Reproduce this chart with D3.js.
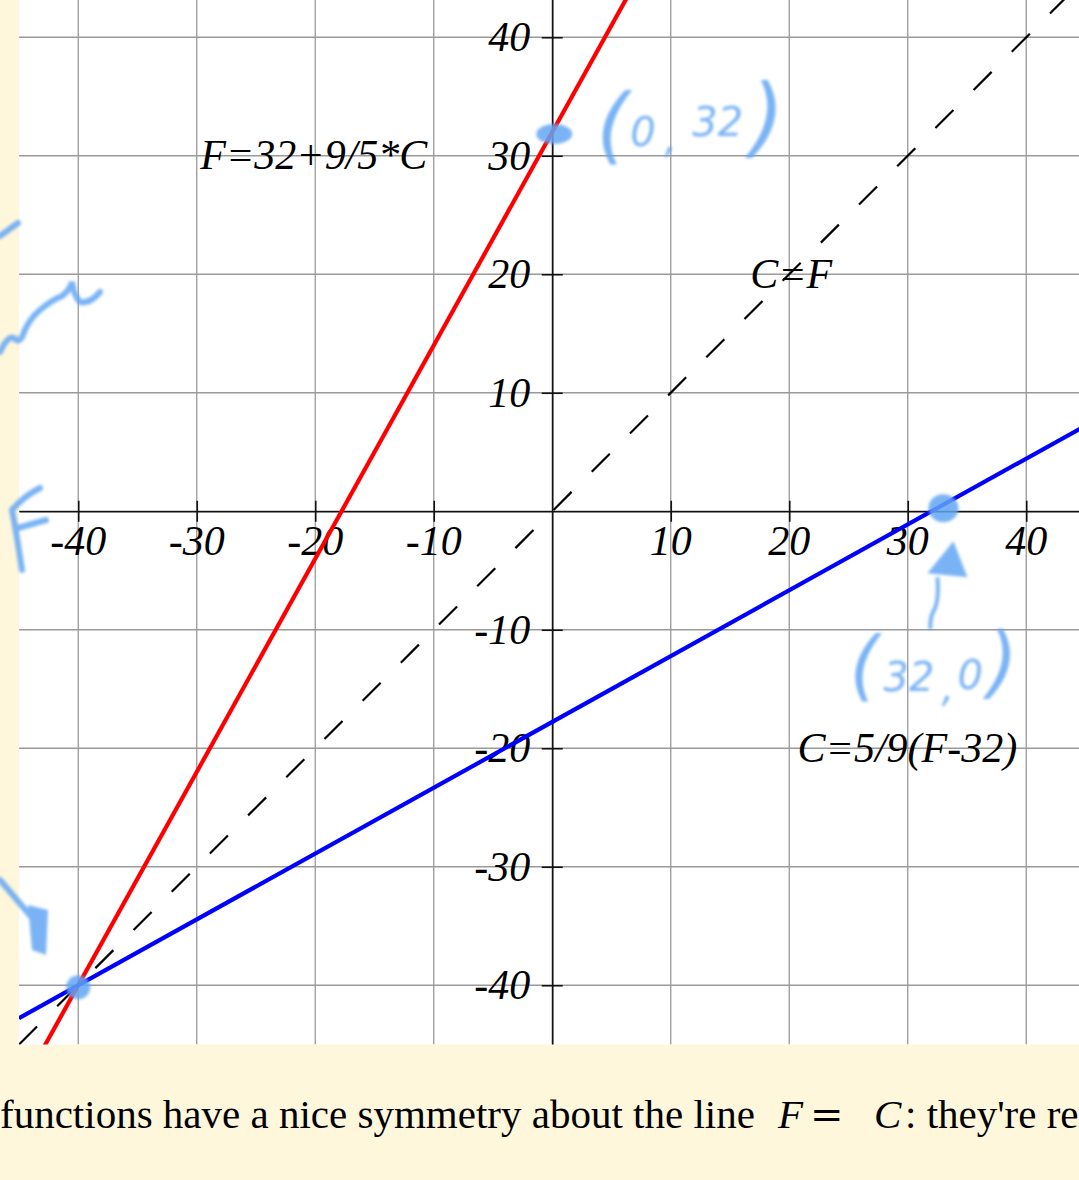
<!DOCTYPE html>
<html>
<head>
<meta charset="utf-8">
<script src="https://cdn.jsdelivr.net/npm/d3@7"></script>
<style>
  html, body { margin: 0; padding: 0; background: #fff7dc; overflow: hidden; }
  svg { display: block; }
</style>
</head>
<body>
<svg id="chart" width="1079" height="1180"></svg>
<script>
// Celsius / Fahrenheit conversion lines
const domainC = [-45, 45];
const domainF = [-45, 45];
const tickValues = [-40, -30, -20, -10, 10, 20, 30, 40];
const gridValues = [-40, -30, -20, -10, 0, 10, 20, 30, 40];
const tickLabels = ["-40", "-30", "-20", "-10", "10", "20", "30", "40"];

const lineNames = ["C=F", "F=32+9/5*C", "C=5/9(F-32)"];
const lineSlopes = [1, 9 / 5, 5 / 9];
const lineIntercepts = [0, 32, -32 * 5 / 9];
const lineColors = ["#000000", "#ff0000", "#0000ff"];

// Handwritten notes: marked points (C, F)
const notePoints = [[0, 32], [32, 0], [-40, -40]];
const noteTexts = ["(0,32)", "(32,0)"];

const svg = d3.select("#chart");
const W = 1079, H = 1180;

const x = d3.scaleLinear().domain(domainC).range([19, 1085.5]);
const y = d3.scaleLinear().domain(domainF).range([1044.5, -22]);

const defs = svg.append("defs");
defs.append("clipPath").attr("id", "plotClip")
  .append("rect")
  .attr("x", x(domainC[0])).attr("y", y(domainF[1]))
  .attr("width", x(domainC[1]) - x(domainC[0]))
  .attr("height", y(domainF[0]) - y(domainF[1]));
defs.append("filter").attr("id", "soft")
  .attr("x", "-20%").attr("y", "-20%").attr("width", "140%").attr("height", "140%")
  .append("feGaussianBlur").attr("stdDeviation", 1.8);

// page background
svg.append("rect").attr("width", W).attr("height", H).attr("fill", "#fff7dc");

// plot area
svg.append("rect")
  .attr("x", x(domainC[0])).attr("y", y(domainF[1]))
  .attr("width", x(domainC[1]) - x(domainC[0]))
  .attr("height", y(domainF[0]) - y(domainF[1]))
  .attr("fill", "#ffffff");

const plot = svg.append("g").attr("clip-path", "url(#plotClip)");

// grid
plot.append("g").selectAll("line").data(gridValues).join("line")
  .attr("x1", d => x(d)).attr("x2", d => x(d))
  .attr("y1", y(domainF[1])).attr("y2", y(domainF[0]))
  .attr("stroke", "#9a9a9a").attr("stroke-width", 1.3);
plot.append("g").selectAll("line").data(gridValues).join("line")
  .attr("y1", d => y(d)).attr("y2", d => y(d))
  .attr("x1", x(domainC[0])).attr("x2", x(domainC[1]))
  .attr("stroke", "#9a9a9a").attr("stroke-width", 1.3);

// axes through the origin
const xAxis = d3.axisBottom(x).tickValues(tickValues).tickSize(0).tickFormat("");
const yAxis = d3.axisLeft(y).tickValues(tickValues).tickSize(0).tickFormat("");
const gx = plot.append("g").attr("transform", `translate(0,${y(0)})`).call(xAxis);
const gy = plot.append("g").attr("transform", `translate(${x(0)},0)`).call(yAxis);
[gx, gy].forEach(g => {
  g.select(".domain").attr("stroke", "#111").attr("stroke-width", 1.6);
  g.selectAll(".tick line").attr("stroke", "#111").attr("stroke-width", 1.6);
});
gx.selectAll(".tick line").attr("y1", -10.5).attr("y2", 10.5);
gy.selectAll(".tick line").attr("x1", -10.5).attr("x2", 10.5);

const labelFont = "'Liberation Serif', 'Times New Roman', serif";

// tick labels
plot.append("g").selectAll("text").data(tickValues).join("text")
  .attr("x", d => x(d)).attr("y", y(0) + 44)
  .attr("text-anchor", "middle")
  .attr("font-family", labelFont).attr("font-style", "italic").attr("font-size", 42)
  .attr("fill", "#000")
  .text((d, i) => tickLabels[i]);
plot.append("g").selectAll("text").data(tickValues).join("text")
  .attr("x", x(0) - 22).attr("y", d => y(d) + 14)
  .attr("text-anchor", "end")
  .attr("font-family", labelFont).attr("font-style", "italic").attr("font-size", 42)
  .attr("fill", "#000")
  .text((d, i) => tickLabels[i]);

// function labels
const labelAnchors = [[16.7, 18.8], [-29.7, 28.85], [20.7, -21.15]];
plot.append("g").selectAll("text").data(lineNames).join("text")
  .attr("x", (d, i) => x(labelAnchors[i][0]))
  .attr("y", (d, i) => y(labelAnchors[i][1]))
  .attr("font-family", labelFont).attr("font-style", "italic").attr("font-size", 42)
  .attr("fill", "#000")
  .text(d => d);

// conversion lines
const lineGen = d3.line().x(d => x(d[0])).y(d => y(d[1]));
lineNames.forEach((name, i) => {
  const pts = domainC.map(c => [c, lineIntercepts[i] + lineSlopes[i] * c]);
  const path = plot.append("path")
    .attr("d", lineGen(pts))
    .attr("fill", "none")
    .attr("stroke", lineColors[i])
    .attr("stroke-width", i === 0 ? 2.2 : 4.2);
  if (i === 0) path.attr("stroke-dasharray", "25.5,28.5");
});

// handwritten notes in blue marker
const ink = "#62a6f4";
const notes = svg.append("g").attr("filter", "url(#soft)").attr("opacity", 0.85);

notes.selectAll("ellipse").data(notePoints).join("ellipse")
  .attr("cx", (d, i) => x(d[0]) + [2, 12, 0][i])
  .attr("cy", (d, i) => y(d[1]) + [2, -3, 2][i])
  .attr("rx", (d, i) => [18, 15, 12][i])
  .attr("ry", (d, i) => [10, 14, 12][i])
  .attr("fill", ink);

const hand = "'DejaVu Sans', sans-serif";
// one text per note, each glyph group as a tspan with its own size and offset
function scribble(g, label, parts) {
  const t = g.append("text")
    .attr("font-family", hand).attr("font-style", "oblique")
    .attr("font-weight", 300)
    .attr("fill", ink);
  let pos = 0;
  parts.forEach(p => {
    const s = label.slice(pos, pos + p.n);
    pos += p.n;
    t.append("tspan").attr("x", p.dx).attr("y", p.dy)
      .attr("font-size", p.size).text(s);
  });
}

// (0,32) next to the red line's intercept
const n1 = notes.append("g").attr("transform", `translate(${x(notePoints[0][0])},${y(notePoints[0][1])})`);
scribble(n1, noteTexts[0], [
  { n: 1, dx: 44, dy: 22, size: 84 },
  { n: 1, dx: 78, dy: 14, size: 40 },
  { n: 1, dx: 112, dy: 20, size: 40 },
  { n: 2, dx: 140, dy: 4, size: 40 },
  { n: 1, dx: 198, dy: 14, size: 88 }
]);

// arrow and (32,0) under the blue line's intercept
const p2 = [x(notePoints[1][0]), y(notePoints[1][1])];
const n2 = notes.append("g").attr("transform", `translate(${p2[0]},${p2[1]})`);
n2.append("path").attr("d", "M22,30 L-4,62 L36,66 Z").attr("fill", ink);
n2.append("path").attr("d", "M6,66 Q8,90 2,100 Q-2,108 -1,118")
  .attr("fill", "none").attr("stroke", ink).attr("stroke-width", 4);
scribble(n2, noteTexts[1], [
  { n: 1, dx: -82, dy: 180, size: 76 },
  { n: 2, dx: -48, dy: 180, size: 40 },
  { n: 1, dx: 10, dy: 190, size: 40 },
  { n: 1, dx: 26, dy: 178, size: 40 },
  { n: 1, dx: 56, dy: 178, size: 78 }
]);

// scribbles along the left margin
const leftInk = [
  "M0,236 L18,223",
  "M0,352 Q8,335 14,338 Q20,345 24,332 Q30,318 40,310 Q52,300 62,296 Q70,290 72,282 Q74,296 80,302 Q90,304 100,292",
  "M40,488 Q24,496 12,510 Q16,530 22,570",
  "M18,528 L46,520",
  "M0,880 L34,920"
];
notes.selectAll("path.left").data(leftInk).join("path")
  .attr("d", d => d)
  .attr("fill", "none").attr("stroke", ink).attr("stroke-width", 6)
  .attr("stroke-linecap", "round");
notes.append("path").attr("d", "M28,905 L48,910 L46,955 L32,950 Z").attr("fill", ink);

// sentence below the chart
const txt = svg.append("text")
  .attr("x", 0).attr("y", 1128)
  .attr("font-family", labelFont).attr("font-size", 41).attr("fill", "#000");
txt.append("tspan").text("functions have a nice symmetry about the line ");
txt.append("tspan").attr("x", 778).attr("font-style", "italic").text("F");
txt.append("tspan").attr("x", 810).attr("font-family", "'DejaVu Serif', serif").attr("font-size", 40).text("=");
txt.append("tspan").attr("x", 874).attr("font-style", "italic").text("C");
txt.append("tspan").attr("x", 905).text(": they're re");
</script>
</body>
</html>
